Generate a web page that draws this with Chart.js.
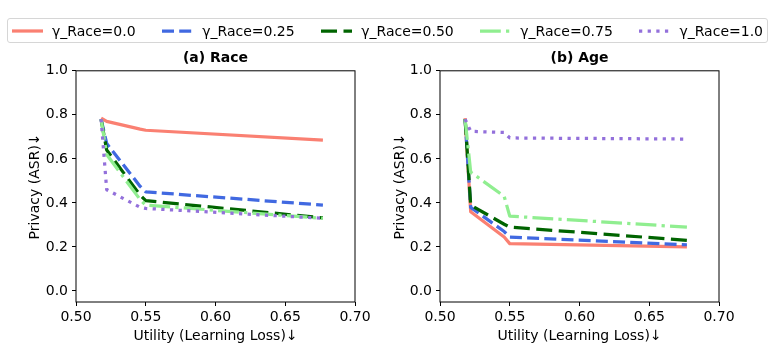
<!DOCTYPE html>
<html>
<head>
<meta charset="utf-8">
<style>
  body { margin: 0; background: #fff; font-family: 'DejaVu Sans', sans-serif; }
  #wrap { position: relative; width: 780px; height: 353px; overflow: hidden; }
  .box { position: absolute; top: 0; width: 390px; height: 353px; }
  #legend { position: absolute; left: 7px; top: 18px; width: 761px; height: 25px; box-sizing: border-box;
            border: 1px solid #d6d6d6; border-radius: 3px; display: flex; align-items: center;
            justify-content: space-between; padding: 0 4px 0 4px; font-size: 14px; color: #000; }
  .item { display: flex; align-items: center; white-space: nowrap; }
  .item svg { margin-right: 9px; }
</style>
</head>
<body>
<div id="wrap">
  <div class="box" style="left:0"><canvas id="raceChart"></canvas></div>
  <div class="box" style="left:390px"><canvas id="ageChart"></canvas></div>
  <div id="legend"></div>
</div>
<script src="https://cdn.jsdelivr.net/npm/chart.js"></script>
<script>
    // utility (learning loss) values shared by every curve
    const utility = [0.518, 0.522, 0.546, 0.550, 0.677];
    const seriesNames = ['γ_Race=0.0', 'γ_Race=0.25', 'γ_Race=0.50', 'γ_Race=0.75', 'γ_Race=1.0'];

    // (a) Race - privacy (ASR)
    const race00 = [0.785, 0.770, 0.735, 0.730, 0.685];
    const race25 = [0.780, 0.670, 0.475, 0.450, 0.390];
    const race50 = [0.780, 0.640, 0.435, 0.410, 0.332];
    const race75 = [0.780, 0.620, 0.415, 0.390, 0.330];
    const race100 = [0.780, 0.460, 0.380, 0.375, 0.330];

    // (b) Age - privacy (ASR)
    const age00 = [0.785, 0.360, 0.245, 0.215, 0.200];
    const age25 = [0.780, 0.380, 0.270, 0.245, 0.210];
    const age50 = [0.780, 0.390, 0.303, 0.290, 0.230];
    const age75 = [0.780, 0.540, 0.430, 0.340, 0.290];
    const age100 = [0.780, 0.725, 0.720, 0.695, 0.690];

    const xTicks = [0.50, 0.55, 0.60, 0.65, 0.70];
    const yTicks = [0.0, 0.2, 0.4, 0.6, 0.8, 1.0];

    const colors = ['#FA8072', '#4169E1', '#006400', '#90EE90', '#9370DB'];
    const dashes = [[], [12, 5.2], [16, 6.5], [20.8, 5.2, 3.25, 5.2], [3.25, 5.4]];
    const lw = 3.25;

    Chart.defaults.font.family = "'DejaVu Sans', sans-serif";
    Chart.defaults.font.size = 14;
    Chart.defaults.color = '#000';

    const frame = {
        id: 'frame',
        afterDraw(chart) {
            const a = chart.chartArea, c = chart.ctx;
            c.save();
            c.strokeStyle = '#000';
            c.lineWidth = 1;
            c.strokeRect(a.left, a.top, a.right - a.left, a.bottom - a.top);
            c.restore();
        }
    };

    function makeChart(id, title, values, yWidth, yTitlePad, padRight) {
        const datasets = values.map((vals, i) => ({
            label: seriesNames[i],
            data: vals.map((v, j) => ({x: utility[j], y: v})),
            borderColor: colors[i],
            borderWidth: lw,
            borderDash: dashes[i],
            borderJoinStyle: 'round',
            pointRadius: 0,
            tension: 0,
            fill: false,
            order: values.length - i
        }));
        return new Chart(document.getElementById(id), {
            type: 'line',
            data: { datasets: datasets },
            options: {
                responsive: true,
                maintainAspectRatio: false,
                animation: false,
                layout: { padding: { left: 0, right: padRight, top: 0, bottom: 0 } },
                plugins: {
                    legend: { display: false },
                    tooltip: { enabled: false },
                    title: { display: true, text: title, fullSize: false, font: { weight: 'bold', size: 14 },
                             padding: { top: 50, bottom: 4 } }
                },
                scales: {
                    x: {
                        type: 'linear', min: 0.5, max: 0.7,
                        afterBuildTicks: s => { s.ticks = xTicks.map(v => ({value: v})); },
                        afterFit: s => { s.height = 51; },
                        ticks: { callback: v => v.toFixed(2), padding: 3, maxRotation: 0 },
                        grid: { drawOnChartArea: false, drawTicks: true, tickLength: 4, color: '#000' },
                        border: { display: false },
                        title: { display: true, text: 'Utility (Learning Loss)↓', padding: { top: 0, bottom: 8 } }
                    },
                    y: {
                        min: -0.05, max: 1.0,
                        afterBuildTicks: s => { s.ticks = yTicks.map(v => ({value: v})); },
                        afterFit: s => { s.width = yWidth; },
                        ticks: { callback: v => v.toFixed(1), padding: 4 },
                        grid: { drawOnChartArea: false, drawTicks: true, tickLength: 4, color: '#000' },
                        border: { display: false },
                        title: { display: true, text: 'Privacy (ASR)↓', padding: { top: yTitlePad, bottom: 0 } }
                    }
                }
            },
            plugins: [frame]
        });
    }

    makeChart('raceChart', '(a) Race', [race00, race25, race50, race75, race100], 76, 27, 35);
    makeChart('ageChart', '(b) Age', [age00, age25, age50, age75, age100], 50, 2, 61);

    // shared legend
    const legend = document.getElementById('legend');
    seriesNames.forEach((name, i) => {
        const item = document.createElement('div');
        item.className = 'item';
        item.innerHTML = '<svg width="31" height="8"><line x1="0" y1="4" x2="31" y2="4" stroke="' + colors[i] +
            '" stroke-width="' + lw + '" stroke-dasharray="' + (dashes[i].length ? dashes[i].join(',') : 'none') +
            '"/></svg><span>' + name + '</span>';
        legend.appendChild(item);
    });
</script>
</body>
</html>
